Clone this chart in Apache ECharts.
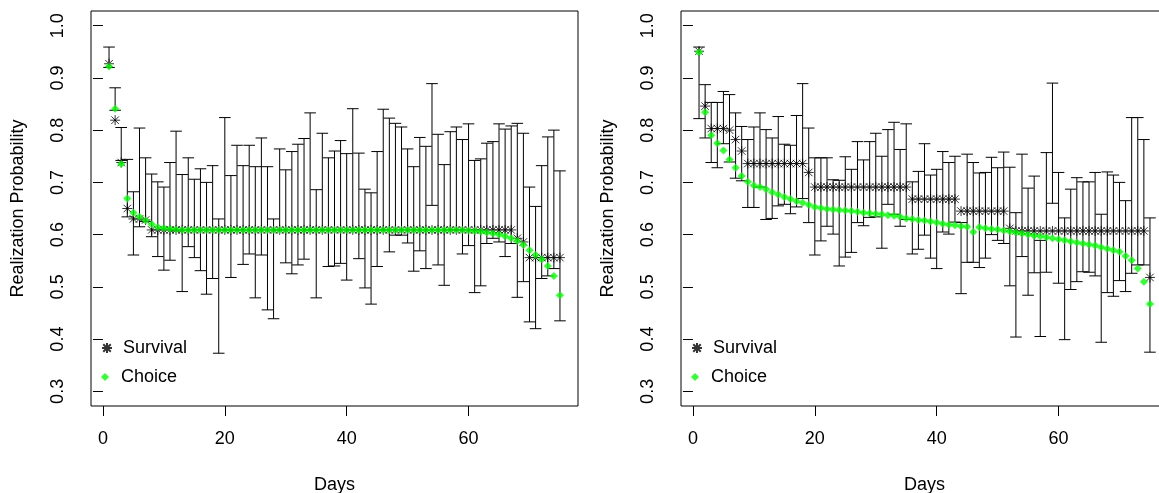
<!DOCTYPE html>
<html>
<head>
<meta charset="utf-8">
<script src="https://cdn.jsdelivr.net/npm/echarts@6/dist/echarts.min.js"></script>
<style>
  html, body { margin: 0; padding: 0; background: #fff; }
  #chart { width: 1159px; height: 493px; }
</style>
</head>
<body>
<div id="chart"></div>
<script>
const days = [
  1, 2, 3, 4, 5, 6, 7, 8, 9, 10, 11, 12, 13, 14, 15, 16, 17, 18, 19, 20,
  21, 22, 23, 24, 25, 26, 27, 28, 29, 30, 31, 32, 33, 34, 35, 36, 37, 38, 39, 40,
  41, 42, 43, 44, 45, 46, 47, 48, 49, 50, 51, 52, 53, 54, 55, 56, 57, 58, 59, 60,
  61, 62, 63, 64, 65, 66, 67, 68, 69, 70, 71, 72, 73, 74, 75
];
const dayTicks = [0, 20, 40, 60];
const probTicks = [0.3, 0.4, 0.5, 0.6, 0.7, 0.8, 0.9, 1.0];

// left panel
const survivalA = [
  0.927, 0.819, 0.738, 0.650, 0.630, 0.630, 0.628, 0.609, 0.609, 0.609,
  0.609, 0.609, 0.609, 0.609, 0.609, 0.609, 0.609, 0.609, 0.609, 0.609,
  0.609, 0.609, 0.609, 0.609, 0.609, 0.609, 0.609, 0.609, 0.609, 0.609,
  0.609, 0.609, 0.609, 0.609, 0.609, 0.609, 0.609, 0.609, 0.609, 0.609,
  0.609, 0.609, 0.609, 0.609, 0.609, 0.609, 0.609, 0.609, 0.609, 0.609,
  0.609, 0.609, 0.609, 0.609, 0.609, 0.609, 0.609, 0.609, 0.609, 0.609,
  0.609, 0.609, 0.609, 0.609, 0.609, 0.609, 0.609, 0.593, 0.586, 0.556,
  0.556, 0.556, 0.556, 0.556, 0.556
];
const choiceA = [
  0.922, 0.841, 0.735, 0.669, 0.642, 0.634, 0.627, 0.620, 0.614, 0.612,
  0.611, 0.610, 0.609, 0.609, 0.609, 0.609, 0.609, 0.609, 0.609, 0.609,
  0.609, 0.609, 0.609, 0.609, 0.609, 0.609, 0.609, 0.609, 0.609, 0.609,
  0.609, 0.609, 0.609, 0.609, 0.609, 0.609, 0.609, 0.609, 0.609, 0.609,
  0.609, 0.609, 0.609, 0.609, 0.609, 0.609, 0.609, 0.609, 0.609, 0.609,
  0.609, 0.609, 0.609, 0.609, 0.609, 0.609, 0.609, 0.609, 0.609, 0.608,
  0.607, 0.606, 0.604, 0.602, 0.600, 0.597, 0.593, 0.588, 0.580, 0.570,
  0.561, 0.553, 0.540, 0.521, 0.484
];
const upperA = [
  0.959, 0.881, 0.805, 0.744, 0.682, 0.804, 0.747, 0.716, 0.701, 0.691,
  0.738, 0.798, 0.715, 0.747, 0.706, 0.726, 0.700, 0.732, 0.630, 0.824,
  0.713, 0.771, 0.732, 0.771, 0.730, 0.785, 0.730, 0.630, 0.764, 0.724,
  0.759, 0.773, 0.784, 0.833, 0.686, 0.794, 0.747, 0.760, 0.780, 0.755,
  0.841, 0.756, 0.687, 0.680, 0.759, 0.840, 0.823, 0.813, 0.806, 0.764,
  0.730, 0.786, 0.769, 0.889, 0.792, 0.734, 0.797, 0.806, 0.782, 0.812,
  0.742, 0.745, 0.775, 0.778, 0.812, 0.802, 0.808, 0.813, 0.794, 0.691,
  0.654, 0.732, 0.787, 0.800, 0.722
];
const lowerA = [
  0.920, 0.838, 0.742, 0.634, 0.561, 0.615, 0.625, 0.596, 0.558, 0.532,
  0.551, 0.607, 0.491, 0.577, 0.556, 0.531, 0.486, 0.516, 0.373, 0.609,
  0.518, 0.609, 0.543, 0.563, 0.479, 0.561, 0.456, 0.439, 0.609, 0.546,
  0.525, 0.542, 0.553, 0.609, 0.479, 0.609, 0.539, 0.540, 0.545, 0.513,
  0.609, 0.554, 0.498, 0.467, 0.539, 0.609, 0.567, 0.599, 0.599, 0.584,
  0.530, 0.569, 0.535, 0.656, 0.542, 0.503, 0.609, 0.609, 0.563, 0.579,
  0.489, 0.502, 0.583, 0.593, 0.586, 0.558, 0.583, 0.480, 0.510, 0.433,
  0.420, 0.516, 0.521, 0.535, 0.435
];

// right panel
const survivalB = [
  0.951, 0.846, 0.803, 0.803, 0.803, 0.800, 0.782, 0.760, 0.736, 0.736,
  0.736, 0.736, 0.736, 0.736, 0.736, 0.736, 0.736, 0.736, 0.719, 0.691,
  0.691, 0.691, 0.691, 0.691, 0.691, 0.691, 0.691, 0.691, 0.691, 0.691,
  0.691, 0.691, 0.691, 0.691, 0.691, 0.668, 0.668, 0.668, 0.668, 0.668,
  0.668, 0.668, 0.668, 0.645, 0.645, 0.645, 0.645, 0.645, 0.645, 0.645,
  0.645, 0.612, 0.607, 0.607, 0.607, 0.607, 0.607, 0.607, 0.607, 0.607,
  0.607, 0.607, 0.607, 0.607, 0.607, 0.607, 0.607, 0.607, 0.607, 0.607,
  0.607, 0.607, 0.607, 0.607, 0.518
];
const choiceB = [
  0.949, 0.834, 0.790, 0.775, 0.761, 0.744, 0.728, 0.712, 0.701, 0.694,
  0.691, 0.687, 0.681, 0.677, 0.672, 0.668, 0.664, 0.661, 0.657, 0.653,
  0.651, 0.649, 0.648, 0.647, 0.646, 0.645, 0.644, 0.642, 0.641, 0.640,
  0.639, 0.637, 0.636, 0.634, 0.631, 0.630, 0.628, 0.627, 0.625, 0.623,
  0.621, 0.619, 0.618, 0.616, 0.615, 0.605, 0.614, 0.612, 0.611, 0.610,
  0.608, 0.606, 0.604, 0.602, 0.600, 0.598, 0.597, 0.595, 0.593, 0.591,
  0.589, 0.587, 0.585, 0.583, 0.581, 0.579, 0.576, 0.573, 0.570, 0.567,
  0.559, 0.551, 0.535, 0.510, 0.467
];
const upperB = [
  0.959, 0.887, 0.853, 0.853, 0.874, 0.868, 0.833, 0.807, 0.782, 0.806,
  0.833, 0.801, 0.785, 0.826, 0.773, 0.771, 0.828, 0.889, 0.804, 0.747,
  0.747, 0.747, 0.705, 0.704, 0.749, 0.725, 0.778, 0.743, 0.778, 0.794,
  0.750, 0.801, 0.815, 0.763, 0.812, 0.701, 0.721, 0.774, 0.714, 0.725,
  0.759, 0.738, 0.750, 0.623, 0.754, 0.738, 0.718, 0.719, 0.748, 0.728,
  0.758, 0.729, 0.642, 0.754, 0.689, 0.712, 0.589, 0.757, 0.890, 0.719,
  0.632, 0.687, 0.709, 0.701, 0.701, 0.719, 0.639, 0.720, 0.714, 0.700,
  0.665, 0.824, 0.824, 0.782, 0.632
];
const lowerB = [
  0.822, 0.785, 0.738, 0.728, 0.774, 0.739, 0.708, 0.703, 0.652, 0.652,
  0.691, 0.629, 0.631, 0.655, 0.658, 0.640, 0.653, 0.669, 0.623, 0.561,
  0.588, 0.616, 0.601, 0.540, 0.557, 0.566, 0.623, 0.617, 0.633, 0.634,
  0.574, 0.658, 0.639, 0.616, 0.629, 0.563, 0.572, 0.599, 0.555, 0.535,
  0.605, 0.601, 0.624, 0.487, 0.547, 0.547, 0.537, 0.555, 0.600, 0.589,
  0.583, 0.502, 0.404, 0.558, 0.484, 0.527, 0.405, 0.528, 0.660, 0.507,
  0.399, 0.495, 0.510, 0.529, 0.528, 0.521, 0.394, 0.489, 0.482, 0.512,
  0.491, 0.526, 0.542, 0.542, 0.375
];

const FONT = "'Liberation Sans', Arial, sans-serif";
const ASTERISK = 'path://M0,-1L0,1M-1,0L1,0M-0.75,-0.75L0.75,0.75M-0.75,0.75L0.75,-0.75';
const DIAMOND = 'path://M0,-1L1,0L0,1L-1,0Z';
const GREEN = '#00ff00';

const chart = echarts.init(document.getElementById('chart'));

// error bar: vertical segment with flat caps at both ends
function renderBar(params, api) {
  const x = api.value(0);
  const lo = api.coord([x, api.value(1)]);
  const hi = api.coord([x, api.value(2)]);
  const w = 5.8;
  const style = { stroke: '#000', lineWidth: 1, fill: null };
  return {
    type: 'group',
    children: [
      { type: 'line', shape: { x1: lo[0], y1: lo[1], x2: hi[0], y2: hi[1] }, style },
      { type: 'line', shape: { x1: lo[0] - w, y1: lo[1], x2: lo[0] + w, y2: lo[1] }, style },
      { type: 'line', shape: { x1: hi[0] - w, y1: hi[1], x2: hi[0] + w, y2: hi[1] }, style }
    ]
  };
}

const grids = [
  { left: 91, top: 11, width: 487, height: 395 },
  { left: 681, top: 11, width: 487, height: 395 }
];

function xAxisFor(i) {
  return {
    type: 'value', gridIndex: i, min: -1.96, max: 77.96,
    name: 'Days', nameLocation: 'middle', nameGap: 70,
    nameTextStyle: { fontFamily: FONT, fontSize: 18, color: '#000' },
    axisLine: { show: false },
    axisTick: { show: true, length: 10, customValues: dayTicks, lineStyle: { color: '#000' } },
    axisLabel: { customValues: dayTicks, fontFamily: FONT, fontSize: 18, color: '#000', margin: 24 },
    splitLine: { show: false }
  };
}
function yAxisFor(i) {
  return {
    type: 'value', gridIndex: i, min: 0.272, max: 1.028,
    name: 'Realization Probability', nameLocation: 'middle', nameGap: 64, nameRotate: 90,
    nameTextStyle: { fontFamily: FONT, fontSize: 18, color: '#000' },
    axisLine: { show: false },
    axisTick: { show: true, length: 10, customValues: probTicks, lineStyle: { color: '#000' } },
    axisLabel: {
      customValues: probTicks, rotate: 90, fontFamily: FONT, fontSize: 18, color: '#000', margin: 24,
      formatter: v => v.toFixed(1)
    },
    splitLine: { show: false }
  };
}

function panelSeries(i, surv, choice, lower, upper) {
  return [
    {
      type: 'custom', name: 'bars' + i, xAxisIndex: i, yAxisIndex: i,
      renderItem: renderBar, encode: { x: 0, y: [1, 2] }, z: 2, silent: true,
      data: days.map((d, k) => [d, lower[k], upper[k]])
    },
    {
      type: 'scatter', name: 'Survival', xAxisIndex: i, yAxisIndex: i,
      symbol: ASTERISK, symbolSize: 10, z: 3,
      itemStyle: { color: 'rgba(0,0,0,0)', borderColor: '#000', borderWidth: 1 },
      data: days.map((d, k) => [d, surv[k]])
    },
    {
      type: 'scatter', name: 'Choice', xAxisIndex: i, yAxisIndex: i,
      symbol: DIAMOND, symbolSize: 8, z: 4,
      itemStyle: { color: GREEN },
      data: days.map((d, k) => [d, choice[k]])
    }
  ];
}

function legendFor(left, top, name, h) {
  return {
    left: left, top: top, padding: 0, orient: 'vertical', selectedMode: false,
    itemWidth: 22, itemHeight: h, symbolKeepAspect: true,
    textStyle: { fontFamily: FONT, fontSize: 18, color: '#000', lineHeight: 18 },
    data: [{ name: name, icon: name === 'Survival' ? ASTERISK : DIAMOND }]
  };
}

chart.setOption({
  animation: false,
  backgroundColor: '#fff',
  grid: grids.map(g => Object.assign({
    show: true, borderColor: '#000', borderWidth: 1, backgroundColor: 'transparent',
    containLabel: false, outerBoundsMode: 'none'
  }, g)),
  xAxis: [xAxisFor(0), xAxisFor(1)],
  yAxis: [yAxisFor(0), yAxisFor(1)],
  legend: [
    legendFor(101, 339, 'Survival', 10),
    legendFor(101, 368, 'Choice', 8),
    legendFor(691, 339, 'Survival', 10),
    legendFor(691, 368, 'Choice', 8)
  ],
  series: [
    ...panelSeries(0, survivalA, choiceA, lowerA, upperA),
    ...panelSeries(1, survivalB, choiceB, lowerB, upperB)
  ]
});
</script>
</body>
</html>
